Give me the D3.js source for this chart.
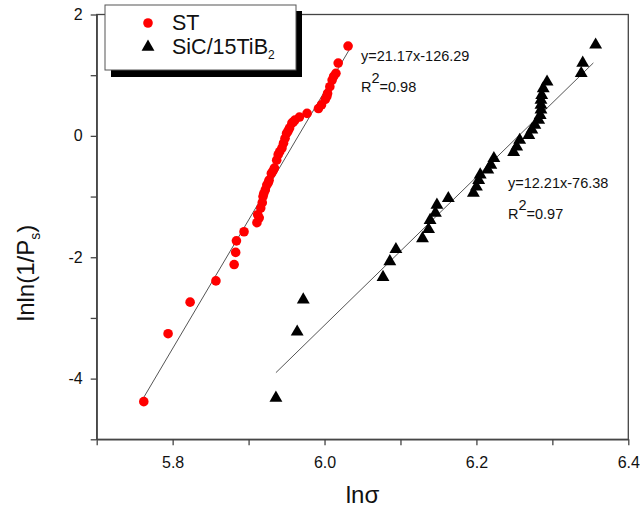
<!DOCTYPE html>
<html>
<head>
<meta charset="utf-8">
<script src="https://cdn.jsdelivr.net/npm/d3@7"></script>
<style>
  body { margin: 0; background: #fff; }
  text { font-family: "Liberation Sans", Arial, sans-serif; }
</style>
</head>
<body>
<div id="plot"></div>
<script>
// ST (red circles)
var stX = [5.762, 5.794, 5.823, 5.857, 5.881, 5.883, 5.884, 5.894, 5.911, 5.912,
           5.914, 5.916, 5.918, 5.919, 5.920, 5.922, 5.924, 5.926, 5.927, 5.930,
           5.932, 5.934, 5.937, 5.939, 5.941, 5.944, 5.946, 5.948, 5.950, 5.952,
           5.954, 5.957, 5.959, 5.961, 5.967, 5.977, 5.992, 5.996, 6.001, 6.003,
           6.004, 6.007, 6.010, 6.012, 6.015, 6.018, 6.031];
var stY = [-4.38, -3.26, -2.74, -2.39, -2.12, -1.92, -1.73, -1.58, -1.43, -1.30,
           -1.35, -1.19, -1.10, -1.00, -0.95, -0.89, -0.81, -0.77, -0.73, -0.62,
           -0.58, -0.53, -0.40, -0.31, -0.26, -0.20, -0.12, -0.04, 0.04, 0.08,
           0.13, 0.21, 0.23, 0.26, 0.31, 0.37, 0.45, 0.51, 0.60, 0.65,
           0.70, 0.81, 0.92, 0.98, 1.03, 1.20, 1.48];

// SiC/15TiB2 (black triangles)
var sicX = [5.936, 5.964, 5.972, 6.077, 6.086, 6.094, 6.129, 6.137, 6.139, 6.146,
            6.148, 6.163, 6.196, 6.200, 6.203, 6.205, 6.215, 6.219, 6.223, 6.249,
            6.253, 6.257, 6.269, 6.273, 6.277, 6.282, 6.284, 6.285, 6.285, 6.285,
            6.286, 6.288, 6.293, 6.338, 6.340, 6.357];
var sicY = [-4.32, -3.23, -2.70, -2.33, -2.07, -1.87, -1.69, -1.54, -1.39, -1.27,
            -1.14, -1.03, -0.94, -0.84, -0.73, -0.64, -0.56, -0.48, -0.37, -0.27,
            -0.18, -0.07, 0.01, 0.10, 0.18, 0.26, 0.34, 0.43, 0.51, 0.59,
            0.67, 0.78, 0.89, 1.03, 1.20, 1.50];

// linear fits: slope, intercept, x range
var stFit = [21.17, -126.29];
var stFitRange = [5.762, 6.036];
var sicFit = [12.21, -76.38];
var sicFitRange = [5.936, 6.354];

var xTicks = [5.8, 6.0, 6.2, 6.4];
var yTicks = [2, 0, -2, -4];
var legendLabels = ["ST", "SiC/15TiB"];

// set the dimensions and margins of the graph
const W = 640, H = 513;
const margin = {top: 14.5, right: 11.7, bottom: 73.7, left: 96.7},
    width = W - margin.left - margin.right,
    height = H - margin.top - margin.bottom;

var svg = d3.select("div#plot")
  .append("svg")
    .attr("width", W)
    .attr("height", H);
var g = svg.append("g")
    .attr("transform", "translate(" + margin.left + "," + margin.top + ")");

var x = d3.scaleLinear().domain([5.7, 6.4]).range([0, width]);
var y = d3.scaleLinear().domain([-5, 2]).range([height, 0]);

var axisColor = "#444";

// frame
g.append("rect")
  .attr("width", width).attr("height", height)
  .attr("fill", "none").attr("stroke", axisColor).attr("stroke-width", 1.3);

// x axis: major ticks with labels, minor ticks between
var xAxis = d3.axisBottom(x)
  .tickValues(d3.range(5.7, 6.41, 0.1))
  .tickSize(6)
  .tickSizeOuter(0)
  .tickFormat(function(d) {
    var v = Math.round(d * 10) / 10;
    return xTicks.indexOf(v) >= 0 ? d3.format(".1f")(v) : "";
  });
var gx = g.append("g")
  .attr("transform", "translate(0," + height + ")")
  .call(xAxis);

var yAxis = d3.axisLeft(y)
  .tickValues(d3.range(-5, 2.01, 1))
  .tickSize(6)
  .tickSizeOuter(0)
  .tickFormat(function(d) { return yTicks.indexOf(d) >= 0 ? d : ""; });
var gy = g.append("g").call(yAxis);

[gx, gy].forEach(function(a) {
  a.select(".domain").attr("stroke", axisColor).attr("stroke-width", 1.3);
  a.selectAll(".tick line").attr("stroke", axisColor).attr("stroke-width", 1.3);
  a.selectAll(".tick text")
    .attr("font-family", "Liberation Sans, Arial, sans-serif")
    .attr("font-size", 16).attr("fill", "#111");
});
gx.selectAll(".tick text").attr("dy", "1.25em");
gy.selectAll(".tick text").attr("x", -14);

// fit lines
function fitLine(fit, range) {
  return range.map(function(v) { return [x(v), y(fit[0] * v + fit[1])]; });
}
g.append("path")
  .attr("d", d3.line()(fitLine(stFit, stFitRange)))
  .attr("stroke", "#555").attr("stroke-width", 1).attr("fill", "none");
g.append("path")
  .attr("d", d3.line()(fitLine(sicFit, sicFitRange)))
  .attr("stroke", "#555").attr("stroke-width", 1).attr("fill", "none");

// points
g.selectAll(".st")
  .data(stX)
  .enter().append("circle")
    .attr("class", "st")
    .attr("cx", function(d) { return x(d); })
    .attr("cy", function(d, i) { return y(stY[i]); })
    .attr("r", 4.8)
    .attr("fill", "#ff0000");

var tri = d3.symbol().type(d3.symbolTriangle).size(72);
g.selectAll(".sic")
  .data(sicX)
  .enter().append("path")
    .attr("class", "sic")
    .attr("d", tri)
    .attr("transform", function(d, i) {
      return "translate(" + x(d) + "," + y(sicY[i]) + ")";
    })
    .attr("fill", "#000");

// equations
function equation(px, py, eq, r2) {
  svg.append("text").attr("x", px).attr("y", py)
    .attr("font-size", 14.5).attr("fill", "#111").text(eq);
  var t2 = svg.append("text").attr("x", px).attr("y", py + 31)
    .attr("font-size", 14.5).attr("fill", "#111");
  t2.append("tspan").text("R");
  t2.append("tspan").attr("dy", -9).text("2");
  t2.append("tspan").attr("dy", 9).text("=" + r2);
}
equation(361, 61, "y=21.17x-126.29", "0.98");
equation(508, 188, "y=12.21x-76.38", "0.97");

// legend with drop shadow
var lg = svg.append("g");
lg.append("rect")
  .attr("x", 111).attr("y", 11).attr("width", 191).attr("height", 66)
  .attr("fill", "#000");
lg.append("rect")
  .attr("x", 105).attr("y", 5).attr("width", 191).attr("height", 65)
  .attr("fill", "#fff").attr("stroke", "#555").attr("stroke-width", 1);
lg.append("circle").attr("cx", 148).attr("cy", 23).attr("r", 4.8).attr("fill", "#ff0000");
lg.append("path").attr("d", tri).attr("transform", "translate(148,47)").attr("fill", "#000");
lg.append("text").attr("x", 172).attr("y", 30)
  .attr("font-size", 21.5).attr("fill", "#111").text(legendLabels[0]);
var lt = lg.append("text").attr("x", 172).attr("y", 54)
  .attr("font-size", 21.5).attr("fill", "#111");
lt.append("tspan").text(legendLabels[1]);
lt.append("tspan").attr("dy", 5).attr("font-size", 12).text("2");

// axis titles
svg.append("text")
  .attr("x", margin.left + width / 2).attr("y", 503)
  .attr("text-anchor", "middle").attr("font-size", 24).attr("fill", "#111")
  .text("lnσ");
var yt = svg.append("text")
  .attr("transform", "translate(34,273) rotate(-90)")
  .attr("text-anchor", "middle").attr("font-size", 24).attr("fill", "#111");
yt.append("tspan").text("lnln(1/P");
yt.append("tspan").attr("dy", 6).attr("font-size", 14).text("s");
yt.append("tspan").attr("dy", -6).text(")");
</script>
</body>
</html>
